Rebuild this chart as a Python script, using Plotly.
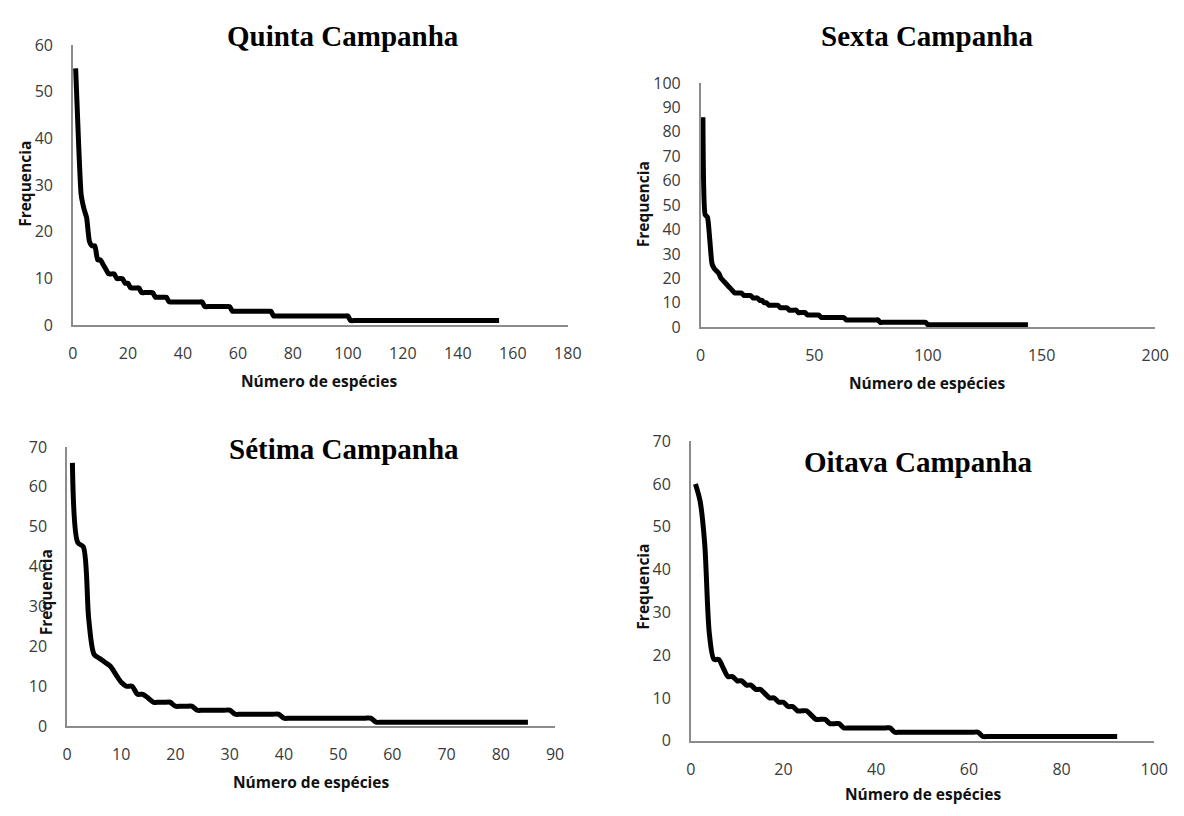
import plotly.graph_objects as go

# Rank-abundance curves: frequency of each species, ordered from most to least abundant
quinta_freq = [
    55, 40, 28, 25, 23, 18, 17, 17, 14, 14,
    13, 12, 11, 11, 11, 10, 10, 10, 9, 9,
    8, 8, 8, 8,
    7, 7, 7, 7, 7,
    6, 6, 6, 6, 6,
    5, 5, 5, 5, 5, 5, 5, 5, 5, 5, 5, 5, 5,
    4, 4, 4, 4, 4, 4, 4, 4, 4, 4,
    3, 3, 3, 3, 3, 3, 3, 3, 3, 3, 3, 3, 3, 3, 3,
    2, 2, 2, 2, 2, 2, 2, 2, 2, 2, 2, 2, 2, 2, 2, 2, 2, 2, 2, 2, 2, 2, 2, 2, 2, 2, 2, 2,
    1, 1, 1, 1, 1, 1, 1, 1, 1, 1, 1, 1, 1, 1, 1, 1, 1, 1, 1, 1, 1, 1, 1, 1, 1, 1, 1, 1,
    1, 1, 1, 1, 1, 1, 1, 1, 1, 1, 1, 1, 1, 1, 1, 1, 1, 1, 1, 1, 1, 1, 1, 1, 1, 1, 1,
]

sexta_freq = [
    86, 46, 45, 36, 26, 24, 23, 22, 20, 19,
    18, 17, 16, 15,
    14, 14, 14, 14,
    13, 13, 13, 13,
    12, 12, 12,
    11, 11,
    10, 10,
    9, 9, 9, 9, 9,
    8, 8, 8, 8,
    7, 7, 7, 7,
    6, 6, 6, 6,
    5, 5, 5, 5, 5, 5,
    4, 4, 4, 4, 4, 4, 4, 4, 4, 4, 4,
    3, 3, 3, 3, 3, 3, 3, 3, 3, 3, 3, 3, 3, 3, 3,
    2, 2, 2, 2, 2, 2, 2, 2, 2, 2, 2, 2, 2, 2, 2, 2, 2, 2, 2, 2, 2,
    1, 1, 1, 1, 1, 1, 1, 1, 1, 1, 1, 1, 1, 1, 1, 1, 1, 1, 1, 1, 1, 1, 1,
    1, 1, 1, 1, 1, 1, 1, 1, 1, 1, 1, 1, 1, 1, 1, 1, 1, 1, 1, 1, 1, 1,
]

setima_freq = [
    66, 46, 45, 27, 18, 17, 16, 15, 13, 11, 10, 10,
    8, 8, 7,
    6, 6, 6, 6,
    5, 5, 5, 5,
    4, 4, 4, 4, 4, 4, 4,
    3, 3, 3, 3, 3, 3, 3, 3, 3,
    2, 2, 2, 2, 2, 2, 2, 2, 2, 2, 2, 2, 2, 2, 2, 2, 2,
    1, 1, 1, 1, 1, 1, 1, 1, 1, 1, 1, 1, 1, 1, 1, 1, 1, 1, 1, 1, 1, 1, 1, 1, 1, 1, 1, 1, 1,
]

oitava_freq = [
    60, 56, 46, 25, 19, 19, 17, 15, 15, 14,
    14, 13, 13, 12, 12, 11, 10, 10, 9, 9,
    8, 8, 7, 7, 7, 6,
    5, 5, 5,
    4, 4, 4,
    3, 3, 3, 3, 3, 3, 3, 3, 3, 3, 3,
    2, 2, 2, 2, 2, 2, 2, 2, 2, 2, 2, 2, 2, 2, 2, 2, 2, 2, 2,
    1, 1, 1, 1, 1, 1, 1, 1, 1, 1, 1, 1, 1, 1, 1, 1, 1, 1, 1, 1, 1, 1, 1, 1, 1, 1, 1, 1, 1, 1,
]

panel_titles = ["Quinta Campanha", "Sexta Campanha", "Sétima Campanha", "Oitava Campanha"]
x_title = "Número de espécies"
y_title = "Frequencia"

W, H = 1184, 816


def px(x):
    return x / W


def py(y):
    return 1 - y / H


# panel geometry in pixels: left, right, bottom, top of the plot area
panels = [
    dict(data=quinta_freq, box=(69, 572, 323, 35), xr=180, xd=20, yr=60, smooth=0.5,
         title=(344, 26), xt=(320, 380), yt=(21, 178)),
    dict(data=sexta_freq, box=(707, 1169, 325, 74), xr=200, xd=50, yr=100, smooth=0.5,
         title=(937, 26), xt=(938, 382), yt=(648, 199)),
    dict(data=setima_freq, box=(63, 559, 735, 448), xr=90, xd=10, yr=70, smooth=0.8,
         title=(345, 450), xt=(312, 792), yt=(42, 597)),
    dict(data=oitava_freq, box=(697, 1168, 750, 442), xr=100, xd=20, yr=70, smooth=0.8,
         title=(928, 463), xt=(933, 805), yt=(648, 592)),
]

tick_font = dict(family="Open Sans", size=16, color="#3a3a3a")
axis_title_font = dict(family="Open Sans", size=15.5, color="#111111", weight="bold")
title_font = dict(family="Liberation Serif", size=29, color="#000000", weight="bold")

fig = go.Figure()
annotations = []
layout_axes = {}

for i, p in enumerate(panels, start=1):
    ranks = list(range(1, len(p["data"]) + 1))
    suffix = "" if i == 1 else str(i)
    fig.add_trace(go.Scatter(
        x=ranks, y=p["data"],
        mode="lines",
        line=dict(color="#000000", width=5, shape="spline", smoothing=p["smooth"]),
        xaxis="x" + suffix, yaxis="y" + suffix,
        showlegend=False, hoverinfo="x+y",
    ))
    left, right, bottom, top = p["box"]
    layout_axes["xaxis" + suffix] = dict(
        domain=[px(left), px(right)], range=[0, p["xr"]],
        tickmode="linear", tick0=0, dtick=p["xd"],
        showgrid=False, zeroline=False, showline=True,
        linecolor="#8c8c8c", linewidth=1.5, ticks="",
        tickfont=tick_font, ticklabelstandoff=13,
        anchor="y" + suffix, fixedrange=True,
    )
    layout_axes["yaxis" + suffix] = dict(
        domain=[py(bottom), py(top)], range=[0, p["yr"]],
        tickmode="linear", tick0=0, dtick=10,
        showgrid=False, zeroline=False, showline=True,
        linecolor="#8c8c8c", linewidth=1.5, ticks="",
        tickfont=tick_font, ticklabelstandoff=15,
        anchor="x" + suffix, fixedrange=True,
    )
    annotations.append(dict(
        text=panel_titles[i - 1], x=px(p["title"][0]), y=py(p["title"][1]),
        xref="paper", yref="paper", xanchor="center", yanchor="middle",
        showarrow=False, font=title_font,
    ))
    annotations.append(dict(
        text=x_title, x=px(p["xt"][0]), y=py(p["xt"][1]),
        xref="paper", yref="paper", xanchor="center", yanchor="middle",
        showarrow=False, font=axis_title_font,
    ))
    annotations.append(dict(
        text=y_title, x=px(p["yt"][0]), y=py(p["yt"][1]),
        xref="paper", yref="paper", xanchor="center", yanchor="middle",
        showarrow=False, font=axis_title_font, textangle=-90,
    ))

fig.update_layout(
    width=W, height=H,
    margin=dict(l=0, r=0, t=0, b=0),
    paper_bgcolor="white", plot_bgcolor="white",
    annotations=annotations,
    **layout_axes,
)

fig.write_html("out.html", config={"displayModeBar": False})
